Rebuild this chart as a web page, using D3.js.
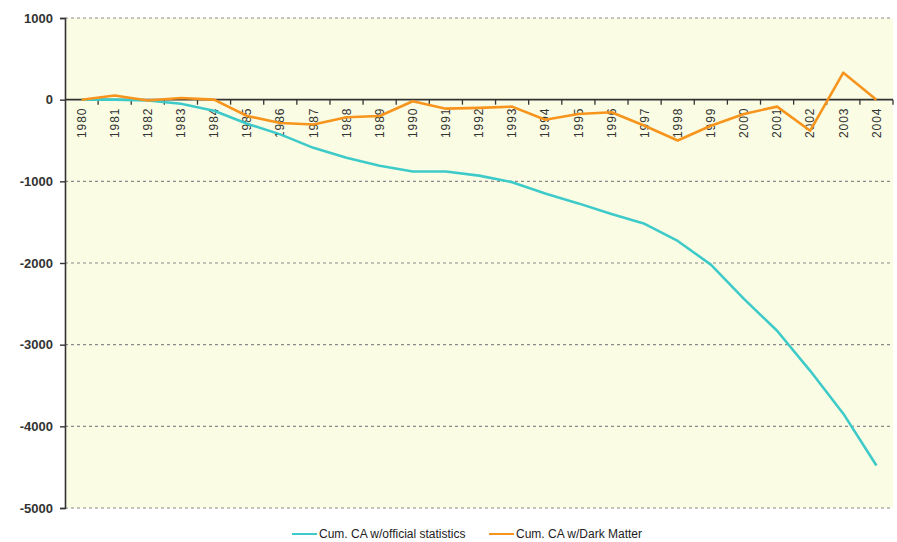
<!DOCTYPE html>
<html>
<head>
<meta charset="utf-8">
<script src="https://cdn.jsdelivr.net/npm/d3@7"></script>
<style>
  body { margin: 0; background: #fff; }
  svg { display: block; font-family: "Liberation Sans", Arial, sans-serif; }
</style>
</head>
<body>
<svg width="897" height="542"></svg>
<script>
// data
const years = ["1980","1981","1982","1983","1984","1985","1986","1987","1988","1989","1990","1991","1992",
               "1993","1994","1995","1996","1997","1998","1999","2000","2001","2002","2003","2004"];
const official = [0, 0, -10, -50, -135, -295, -425, -590, -710, -810, -880, -880, -930,
                  -1010, -1150, -1270, -1400, -1520, -1730, -2020, -2440, -2830, -3320, -3845, -4480];
const darkMatter = [0, 50, -10, 20, 0, -200, -285, -305, -215, -200, -20, -110, -100,
                    -85, -245, -175, -155, -320, -500, -320, -175, -85, -380, 330, 0];
const yTicks = [1000, 0, -1000, -2000, -3000, -4000, -5000];
const seriesNames = ["Cum. CA w/official statistics", "Cum. CA w/Dark Matter"];

function draw() {
    const svg = d3.select("svg");
    const plot = { left: 65, right: 893, top: 18, bottom: 508 };
    const colors = ["#3fcaca", "#f7941d"];

    const x = d3.scaleBand()
        .domain(years)
        .range([plot.left, plot.right])
        .padding(0);
    const y = d3.scaleLinear()
        .domain([-5000, 1000])
        .range([plot.bottom, plot.top]);

    // plot background
    svg.append("rect")
        .attr("x", plot.left)
        .attr("y", plot.top)
        .attr("width", plot.right - plot.left)
        .attr("height", plot.bottom - plot.top)
        .attr("fill", "#fafde3");

    // dashed gridlines
    svg.append("g")
        .selectAll("line")
        .data(yTicks.filter(d => d !== 0))
        .enter()
        .append("line")
        .attr("x1", plot.left)
        .attr("x2", plot.right)
        .attr("y1", d => y(d))
        .attr("y2", d => y(d))
        .attr("stroke", "#8a8a8a")
        .attr("stroke-width", 1.2)
        .attr("stroke-dasharray", "3,3");

    // y axis (plain hyphen for negatives, like the original)
    const yAxis = svg.append("g")
        .attr("transform", `translate(${plot.left},0)`)
        .call(d3.axisLeft(y).tickValues(yTicks).tickSize(5).tickPadding(7).tickFormat(d => String(d)));
    yAxis.select(".domain").attr("stroke", "#333").attr("stroke-width", 1.6);
    yAxis.selectAll(".tick line").attr("stroke", "#333").attr("stroke-width", 1.4);
    yAxis.selectAll(".tick text")
        .attr("fill", "#333")
        .style("font-size", "13px")
        .style("font-weight", "bold");

    // zero axis with category ticks
    const zero = svg.append("g");
    zero.append("line")
        .attr("x1", plot.left)
        .attr("x2", plot.right)
        .attr("y1", y(0))
        .attr("y2", y(0))
        .attr("stroke", "#333")
        .attr("stroke-width", 1.6);
    const bounds = years.map(d => x(d)).concat([plot.right]);
    zero.selectAll(".xtick")
        .data(bounds.slice(1))
        .enter()
        .append("line")
        .attr("x1", d => d)
        .attr("x2", d => d)
        .attr("y1", y(0))
        .attr("y2", y(0) + 5)
        .attr("stroke", "#333")
        .attr("stroke-width", 1.3);
    zero.selectAll(".xlabel")
        .data(years)
        .enter()
        .append("text")
        .attr("transform", d => `translate(${x(d) + x.bandwidth() / 2},${y(0) + 8}) rotate(-90)`)
        .attr("dy", "0.35em")
        .attr("text-anchor", "end")
        .attr("fill", "#333")
        .style("font-size", "12px")
        .style("letter-spacing", "0.9px")
        .text(d => d);

    // lines
    const line = d3.line()
        .x((d, i) => x(years[i]) + x.bandwidth() / 2)
        .y(d => y(d));
    [official, darkMatter].forEach((vals, i) => {
        svg.append("path")
            .datum(vals)
            .attr("d", line)
            .attr("fill", "none")
            .attr("stroke", colors[i])
            .attr("stroke-width", 2.6)
            .attr("stroke-linejoin", "round");
    });

    // legend
    const legendX = [292, 489];
    seriesNames.forEach((name, i) => {
        const g = svg.append("g").attr("transform", `translate(${legendX[i]},534)`);
        g.append("line")
            .attr("x1", 0)
            .attr("x2", 25)
            .attr("stroke", colors[i])
            .attr("stroke-width", 2);
        g.append("text")
            .attr("x", 27)
            .attr("y", 4)
            .attr("fill", "#222")
            .style("font-size", "12px")
            .text(name);
    });
}
draw();
</script>
</body>
</html>
